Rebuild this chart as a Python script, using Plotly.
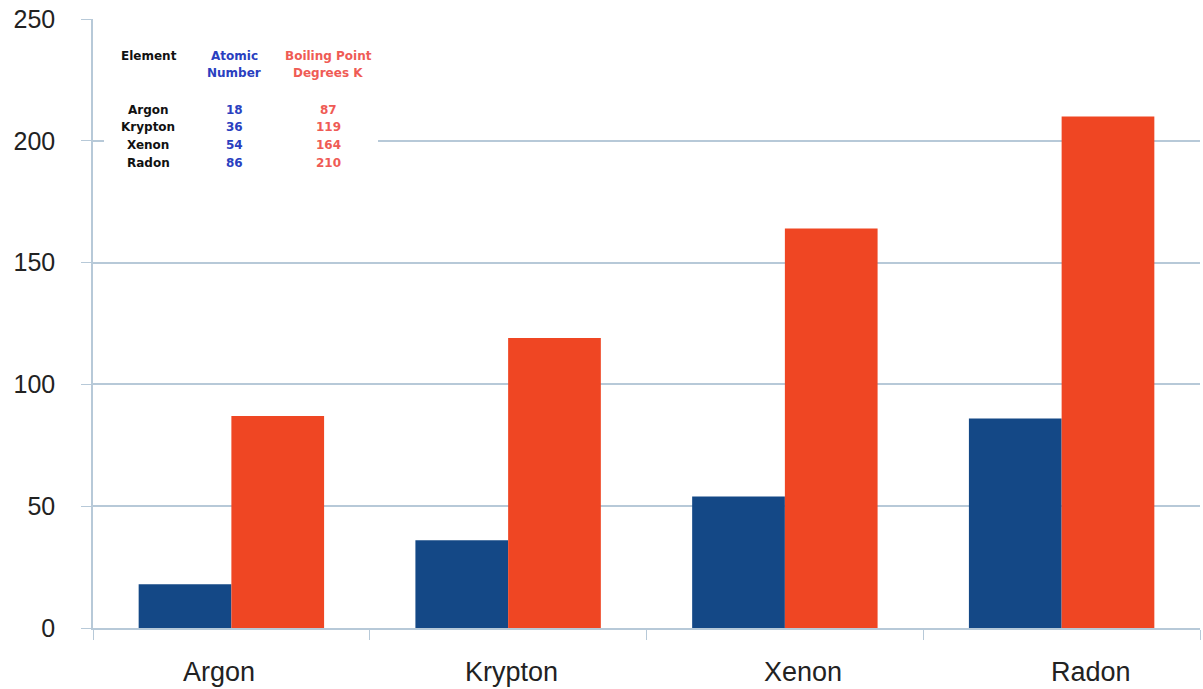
import plotly.graph_objects as go

# Noble gases: atomic number vs boiling point (K)
elements = ["Argon", "Krypton", "Xenon", "Radon"]
atomic_number = [18, 36, 54, 86]
boiling_point_k = [87, 119, 164, 210]
y_ticks = [0, 50, 100, 150, 200, 250]

BLUE = "#144886"
RED = "#ef4623"
GRID = "#b7c9d8"

W, H = 1203, 689
L, R, T, B = 93, 3, 19, 61
PW, PH = W - L - R, H - T - B


def px(x):
    return (x - L) / PW


def py(y):
    return (H - B - y) / PH


fig = go.Figure()
fig.add_trace(go.Bar(x=elements, y=atomic_number, marker_color=BLUE,
                     marker_line_width=0, name="Atomic Number"))
fig.add_trace(go.Bar(x=elements, y=boiling_point_k, marker_color=RED,
                     marker_line_width=0, name="Boiling Point Degrees K"))

# Inline data table in the upper-left corner
fig.add_shape(type="rect", xref="paper", yref="paper",
              x0=px(104), x1=px(378), y0=py(176), y1=py(38),
              fillcolor="white", line_width=0, layer="above")

font_tbl = dict(family="DejaVu Sans", size=12)
ann = []


def cell(x, y, text, color):
    ann.append(dict(xref="paper", yref="paper", x=px(x), y=py(y), text=f"<b>{text}</b>",
                    showarrow=False, xanchor="center", yanchor="middle",
                    font=dict(color=color, **font_tbl)))


cell(149, 56, "Element", "#111111")
cell(234, 56, "Atomic", "#2a3fc0")
cell(234, 73, "Number", "#2a3fc0")
cell(328, 56, "Boiling Point", "#ef5b55")
cell(328, 73, "Degrees K", "#ef5b55")
for i, (el, an, bp) in enumerate(zip(elements, atomic_number, boiling_point_k)):
    yy = 110 + i * 17.5
    cell(148, yy, el, "#111111")
    cell(234, yy, str(an), "#2a3fc0")
    cell(328, yy, str(bp), "#ef5b55")

# Category labels below the axis, spread slightly wider than the bar groups
label_shift = [-12, 3, 18, 29]
for el, dx in zip(elements, label_shift):
    ann.append(dict(xref="x", yref="paper", x=el, y=0, yshift=-27, xshift=dx,
                    text=el, showarrow=False, xanchor="center", yanchor="top",
                    font=dict(family="Liberation Sans, Arial", size=27, color="#222222")))

fig.update_layout(
    width=W, height=H,
    margin=dict(l=L, r=R, t=T, b=B),
    paper_bgcolor="white", plot_bgcolor="white",
    barmode="group", bargap=0.33, bargroupgap=0,
    showlegend=False,
    annotations=ann,
    font=dict(family="Liberation Sans, Arial", color="#222222"),
)
fig.update_xaxes(
    showline=True, linecolor=GRID, linewidth=1.5,
    ticks="outside", tickson="boundaries", ticklen=10, tickcolor=GRID,
    showticklabels=False, showgrid=False,
)
fig.update_yaxes(
    range=[0, 250], tickvals=y_ticks, showline=True, linecolor=GRID, linewidth=1.5,
    ticks="outside", ticklen=10, tickcolor=GRID,
    gridcolor=GRID, gridwidth=1.5, zeroline=False,
    tickfont=dict(size=25), ticklabelstandoff=21,
)

fig.write_html("out.html")
